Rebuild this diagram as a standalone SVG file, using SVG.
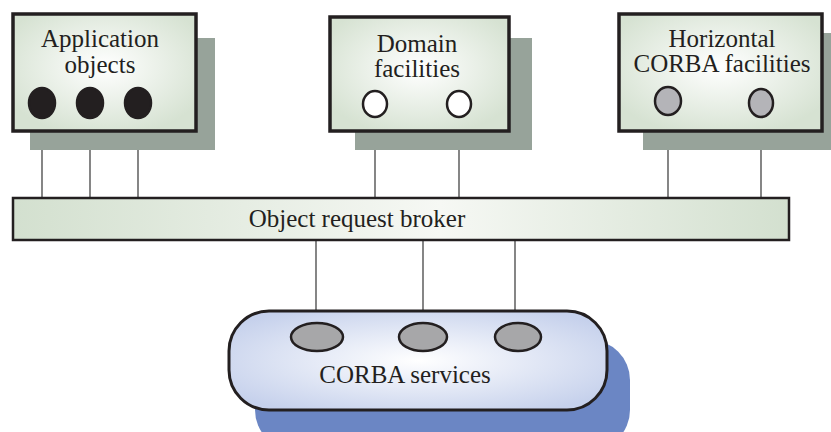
<svg xmlns="http://www.w3.org/2000/svg" width="831" height="432" viewBox="0 0 831 432">
<defs>
<radialGradient id="gG" cx="50%" cy="45%" r="60%">
<stop offset="0" stop-color="#ffffff"/>
<stop offset="1" stop-color="#d6e2d2"/>
</radialGradient>
<linearGradient id="gBar" x1="0" y1="0" x2="1" y2="0">
<stop offset="0" stop-color="#d3e0cf"/>
<stop offset="0.55" stop-color="#f6f8f4"/>
<stop offset="1" stop-color="#d3e0cf"/>
</linearGradient>
<radialGradient id="gB" cx="50%" cy="50%" r="60%">
<stop offset="0" stop-color="#ffffff"/>
<stop offset="1" stop-color="#c6d1ec"/>
</radialGradient>
<style>
.shadow{fill:#97a39a;}
.box{fill:url(#gG);stroke:#231f20;stroke-width:3.5;}
.lbl{font-family:"Liberation Serif","Times New Roman",serif;font-size:25px;fill:#231f20;text-anchor:middle;}
.port{stroke:#231f20;stroke-width:2.5;}
.blk{fill:#231f20;}
.wht{fill:#ffffff;}
.gry{fill:#b4b4b8;}
.svc{fill:#a7a7a9;}
.con{stroke:#444;stroke-width:1.3;fill:none;}
</style>
</defs>
<g id="connectors">
<line class="con" x1="42" y1="104" x2="42" y2="198"/>
<line class="con" x1="90" y1="104" x2="90" y2="198"/>
<line class="con" x1="138" y1="104" x2="138" y2="198"/>
<line class="con" x1="375" y1="104" x2="375" y2="198"/>
<line class="con" x1="459" y1="104" x2="459" y2="198"/>
<line class="con" x1="668" y1="100" x2="668" y2="198"/>
<line class="con" x1="761" y1="100" x2="761" y2="198"/>
<line class="con" x1="316" y1="240" x2="316" y2="337"/>
<line class="con" x1="423" y1="240" x2="423" y2="337"/>
<line class="con" x1="515" y1="240" x2="515" y2="337"/>
</g>
<g id="application-objects">
<rect class="shadow" x="30" y="38" width="185" height="112"/>
<rect class="box" x="13" y="14" width="183" height="117"/>
<text class="lbl" x="100" y="47">Application</text>
<text class="lbl" x="100" y="73">objects</text>
<ellipse class="port blk" cx="42" cy="103" rx="13" ry="15"/>
<ellipse class="port blk" cx="90" cy="103" rx="13" ry="15"/>
<ellipse class="port blk" cx="138" cy="103" rx="13" ry="15"/>
</g>
<g id="domain-facilities">
<rect class="shadow" x="355" y="38" width="177" height="112"/>
<rect class="box" x="330" y="17" width="179" height="114"/>
<text class="lbl" x="417" y="52">Domain</text>
<text class="lbl" x="417" y="77">facilities</text>
<ellipse class="port wht" cx="375" cy="104" rx="12" ry="13"/>
<ellipse class="port wht" cx="459" cy="104" rx="12" ry="13"/>
</g>
<g id="horizontal-corba-facilities">
<rect class="shadow" x="643" y="33" width="188" height="117"/>
<rect class="box" x="619" y="14" width="203" height="117"/>
<text class="lbl" x="722" y="47">Horizontal</text>
<text class="lbl" x="722" y="72">CORBA facilities</text>
<ellipse class="port gry" cx="668" cy="101" rx="13" ry="14"/>
<ellipse class="port gry" cx="761" cy="103" rx="12" ry="14"/>
</g>
<g id="object-request-broker">
<rect x="13" y="198" width="776" height="42" fill="url(#gBar)" stroke="#231f20" stroke-width="2.5"/>
<text class="lbl" x="357" y="227">Object request broker</text>
</g>
<g id="corba-services">
<rect x="255" y="340" width="375" height="110" rx="40" fill="#6b86c4"/>
<rect x="229" y="311" width="378" height="99" rx="40" fill="url(#gB)" stroke="#231f20" stroke-width="3"/>
<ellipse class="port svc" cx="317" cy="337" rx="26" ry="14"/>
<ellipse class="port svc" cx="423" cy="337" rx="24" ry="14"/>
<ellipse class="port svc" cx="518" cy="337" rx="23" ry="14"/>
<text class="lbl" x="405" y="383">CORBA services</text>
</g>
</svg>
